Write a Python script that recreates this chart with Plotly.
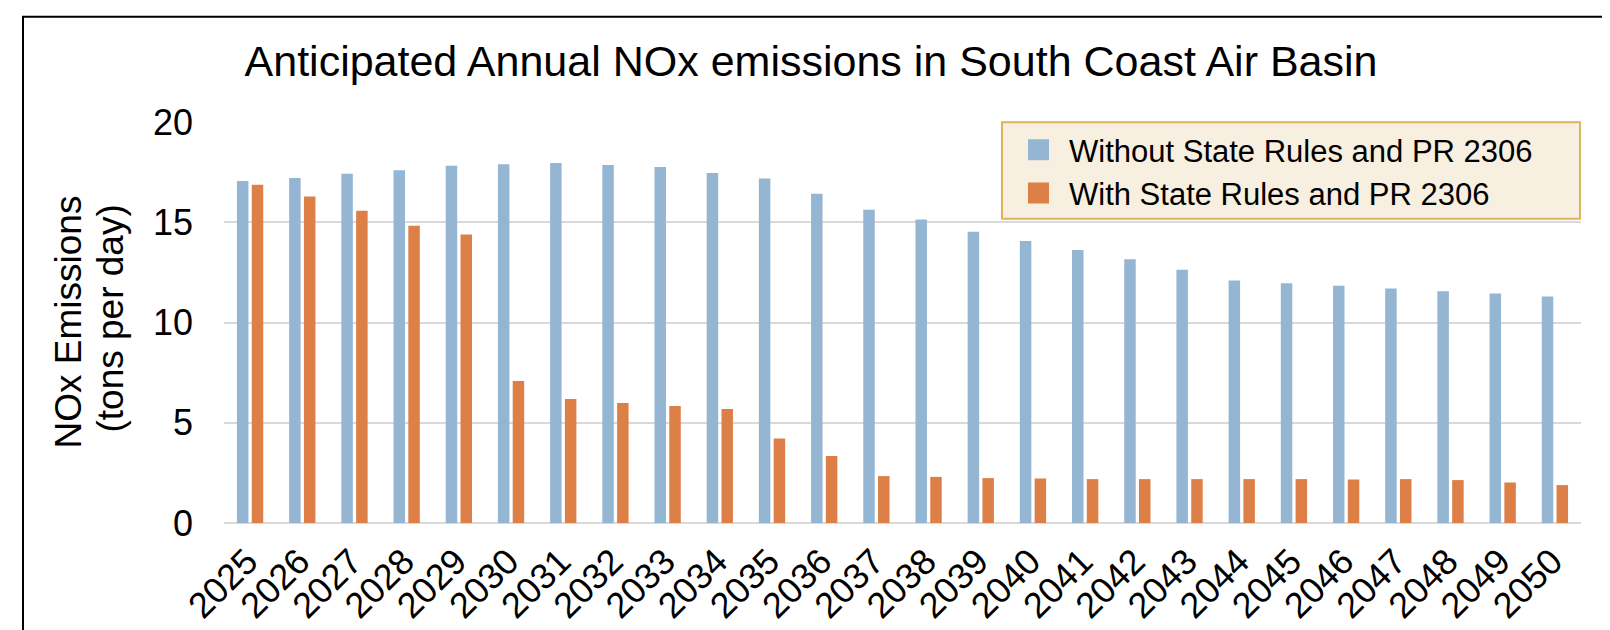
import plotly.graph_objects as go

years = ["2025", "2026", "2027", "2028", "2029", "2030", "2031", "2032", "2033",
         "2034", "2035", "2036", "2037", "2038", "2039", "2040", "2041", "2042",
         "2043", "2044", "2045", "2046", "2047", "2048", "2049", "2050"]
without_rules = [17.06, 17.21, 17.42, 17.59, 17.82, 17.89, 17.95, 17.85, 17.75,
                 17.46, 17.18, 16.42, 15.62, 15.14, 14.52, 14.06, 13.62, 13.16,
                 12.63, 12.09, 11.96, 11.83, 11.69, 11.56, 11.45, 11.30]
with_rules = [16.87, 16.29, 15.57, 14.83, 14.39, 7.08, 6.18, 5.98, 5.83,
              5.68, 4.21, 3.34, 2.34, 2.30, 2.24, 2.22, 2.19, 2.19,
              2.19, 2.19, 2.19, 2.17, 2.19, 2.14, 2.02, 1.89]
series_names = ["Without State Rules and PR 2306", "With State Rules and PR 2306"]
y_ticks = [0, 5, 10, 15, 20]

BLUE = "#95B6D3"
ORANGE = "#DD8047"
FONT = "Liberation Sans, Arial, sans-serif"

W, H = 1610, 630
L, R, T, B = 216, 37, 114, 110
PW, PH = W - L - R, H - T - B


def px(xp):
    return (xp - L) / PW


def py(yp):
    return (H - B - yp) / PH


fig = go.Figure()
for name, vals, col in [(series_names[0], without_rules, BLUE),
                        (series_names[1], with_rules, ORANGE)]:
    fig.add_trace(go.Bar(x=years, y=vals, name=name, marker_color=col,
                         marker_line_width=0, showlegend=False))
# legend-only entries with larger square swatches
for name, col in [(series_names[0], BLUE), (series_names[1], ORANGE)]:
    fig.add_trace(go.Scatter(x=[None], y=[None], mode="markers", name=name,
                             marker=dict(symbol="square", size=16, color=col,
                                         line=dict(color=col, width=5)),
                             showlegend=True))

fig.update_layout(
    width=W, height=H,
    margin=dict(l=L, r=R, t=T, b=B),
    paper_bgcolor="white", plot_bgcolor="white",
    font=dict(family=FONT, color="black"),
    barmode="group", bargap=0.433, bargroupgap=0.223,
    title=dict(text="Anticipated Annual NOx emissions in South Coast Air Basin",
               font=dict(size=43, family=FONT, color="black"),
               x=803 / W, xanchor="center", xref="container",
               y=1 - 53 / H, yanchor="middle", yref="container"),
    xaxis=dict(type="category", tickangle=-45, tickfont=dict(size=36),
               showgrid=False, ticks="", showline=False,
               ticklabelstandoff=9, ticklabelshift=-3,
               range=[-0.5, len(years) - 0.5]),
    yaxis=dict(range=[0, 20], tickvals=y_ticks, tickfont=dict(size=36),
               showgrid=True, gridcolor="#D9D9D9", gridwidth=2,
               zeroline=True, zerolinecolor="#D9D9D9", zerolinewidth=2,
               ticks="", ticklabelstandoff=30, showline=False),
    legend=dict(x=px(1000), y=py(115), xanchor="left", yanchor="top",
                bgcolor="rgba(0,0,0,0)", borderwidth=0,
                font=dict(size=31, family=FONT, color="black"),
                itemwidth=51, tracegroupgap=0),
    shapes=[
        dict(type="rect", xref="paper", yref="paper",
             x0=px(994), x1=px(1572), y0=py(212), y1=py(114.3),
             fillcolor="#F7EFDF", line=dict(color="#DDB45E", width=2),
             layer="above"),
        dict(type="rect", xref="paper", yref="paper",
             x0=px(15), x1=px(1600), y0=py(645), y1=py(7.5),
             fillcolor="rgba(0,0,0,0)", line=dict(color="black", width=2),
             layer="above"),
    ],
    annotations=[
        dict(text="NOx Emissions", textangle=-90, xref="paper", yref="paper",
             x=px(60), y=py(317), xanchor="center", yanchor="middle",
             showarrow=False, font=dict(size=37, family=FONT, color="black")),
        dict(text="(tons per day)", textangle=-90, xref="paper", yref="paper",
             x=px(103), y=py(313), xanchor="center", yanchor="middle",
             showarrow=False, font=dict(size=37, family=FONT, color="black")),
    ],
)

fig.write_html("out.html")
